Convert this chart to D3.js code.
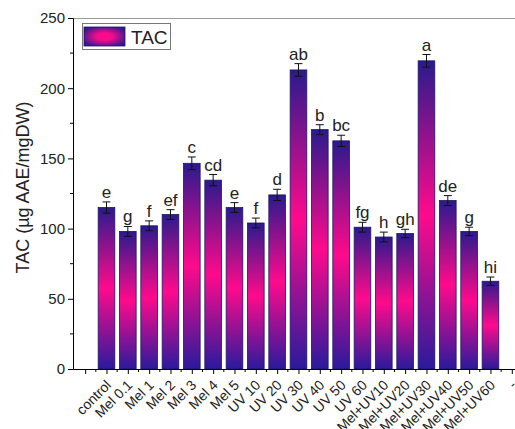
<!DOCTYPE html>
<html>
<head>
<meta charset="utf-8">
<script src="https://cdn.jsdelivr.net/npm/d3@7"></script>
<style>
  html, body { margin: 0; padding: 0; background: #fff; }
  svg { display: block; font-family: Arial, "Liberation Sans", sans-serif; }
</style>
</head>
<body>
<svg id="chart" width="515" height="429"></svg>
<script>
// ---------- data ----------
const categories = ["control", "Mel 0.1", "Mel 1", "Mel 2", "Mel 3", "Mel 4", "Mel 5",
  "UV 10", "UV 20", "UV 30", "UV 40", "UV 50", "UV 60",
  "Mel+UV10", "Mel+UV20", "Mel+UV30", "Mel+UV40", "Mel+UV50", "Mel+UV60"];
const tacValues = [115, 98, 102, 110, 146.5, 134.5, 115, 104, 124, 213, 170.5, 162.5, 101,
  94, 96.5, 219.5, 120, 98, 62.5];
const tacErrors = [4, 3.5, 3.5, 3.5, 4.5, 4, 3.5, 3.5, 4, 4.5, 3.5, 4, 3.5,
  3.5, 3, 4.5, 3.5, 3, 3];
const sigLetters = ["e", "g", "f", "ef", "c", "cd", "e", "f", "d", "ab", "b", "bc", "fg",
  "h", "gh", "a", "de", "g", "hi"];
const yTicks = [0, 50, 100, 150, 200, 250];
const yMinorTicks = [25, 75, 125, 175, 225];
const extraTickLabel = "-";
const seriesName = "TAC";
const yTitle = "TAC (µg AAE/mgDW)";

// ---------- layout ----------
const svg = d3.select("#chart");
const mLeft = 73, mTop = 18, mBottom = 369, mRight = 515;

const x = d3.scaleLinear().domain([-0.57, 20.15]).range([mLeft, mRight]);
const y = d3.scaleLinear().domain([0, 250]).range([mBottom, mTop]);

const defs = svg.append("defs");
const grad = defs.append("linearGradient").attr("id", "barGrad")
  .attr("x1", 0).attr("y1", 0).attr("x2", 0).attr("y2", 1);
grad.append("stop").attr("offset", "0%").attr("stop-color", "#2a1a8e");
grad.append("stop").attr("offset", "50%").attr("stop-color", "#ff0a8c");
grad.append("stop").attr("offset", "100%").attr("stop-color", "#2a1a9c");

const rgrad = defs.append("radialGradient").attr("id", "legGrad")
  .attr("cx", 0.5).attr("cy", 0.5).attr("r", 0.6);
rgrad.append("stop").attr("offset", "0%").attr("stop-color", "#ff0a8c");
rgrad.append("stop").attr("offset", "35%").attr("stop-color", "#f00c8c");
rgrad.append("stop").attr("offset", "100%").attr("stop-color", "#2a1a8e");

// frame (top border grey)
svg.append("line").attr("x1", mLeft).attr("x2", mRight).attr("y1", mTop + 0.5).attr("y2", mTop + 0.5)
  .attr("stroke", "#9a9a9a").attr("stroke-width", 1.2);

// bars
const data = categories.map((c, i) => ({ c, i: i + 1, v: tacValues[i], e: tacErrors[i], s: sigLetters[i] }));
const bw = 0.78;
svg.append("g").selectAll("rect").data(data).join("rect")
  .attr("x", d => x(d.i - bw / 2))
  .attr("width", d => x(d.i + bw / 2) - x(d.i - bw / 2))
  .attr("y", d => y(d.v))
  .attr("height", d => y(0) - y(d.v))
  .attr("fill", "url(#barGrad)")
  .attr("stroke", "#1c1666").attr("stroke-width", 0.8);

// error bars
const eg = svg.append("g").attr("stroke", "#111").attr("stroke-width", 1);
eg.selectAll("line.v").data(data).join("line").attr("class", "v")
  .attr("x1", d => x(d.i)).attr("x2", d => x(d.i))
  .attr("y1", d => y(d.v - d.e)).attr("y2", d => y(d.v + d.e));
eg.selectAll("line.t").data(data).join("line").attr("class", "t")
  .attr("x1", d => x(d.i) - 4).attr("x2", d => x(d.i) + 4)
  .attr("y1", d => y(d.v + d.e)).attr("y2", d => y(d.v + d.e));
eg.selectAll("line.b").data(data).join("line").attr("class", "b")
  .attr("x1", d => x(d.i) - 4).attr("x2", d => x(d.i) + 4)
  .attr("y1", d => y(d.v - d.e)).attr("y2", d => y(d.v - d.e));

// significance letters
svg.append("g").selectAll("text").data(data).join("text")
  .attr("x", d => x(d.i)).attr("y", d => y(d.v + d.e) - 4)
  .attr("text-anchor", "middle").attr("font-size", 17).attr("fill", "#222")
  .text(d => d.s);

// y axis
const yAxis = d3.axisLeft(y).tickValues(yTicks).tickSize(5).tickPadding(3);
const ya = svg.append("g").attr("transform", `translate(${mLeft},0)`).call(yAxis);
ya.selectAll("text").attr("font-size", 15).attr("fill", "#222").attr("font-family", "Arial, 'Liberation Sans', sans-serif");
ya.select(".domain").attr("stroke", "#000");
ya.append("g").selectAll("line").data(yMinorTicks).join("line")
  .attr("x1", -3).attr("x2", 0).attr("y1", d => y(d)).attr("y2", d => y(d)).attr("stroke", "#000");

// x axis
const majorX = d3.range(0, 21);
const minorX = d3.range(0, 20).map(d => d + 0.5);
const labelFor = p => (p >= 1 && p <= 19) ? categories[p - 1] : (p === 20 ? extraTickLabel : "");
const xAxis = d3.axisBottom(x).tickValues(majorX).tickSize(5).tickFormat(labelFor).tickSizeOuter(0);
const xa = svg.append("g").attr("transform", `translate(0,${mBottom})`).call(xAxis);
xa.select(".domain").attr("stroke", "#000");
xa.selectAll(".tick text")
  .attr("font-size", 14).attr("fill", "#222").attr("font-family", "Arial, 'Liberation Sans', sans-serif")
  .attr("text-anchor", "end").attr("dy", 0).attr("y", 0)
  .attr("transform", "translate(5,17) rotate(-45)");
xa.append("g").selectAll("line").data(minorX).join("line")
  .attr("x1", d => x(d)).attr("x2", d => x(d)).attr("y1", 0).attr("y2", 3).attr("stroke", "#000");

// y title
svg.append("text").attr("transform", `translate(29,${(98 + 277) / 2}) rotate(-90)`)
  .attr("text-anchor", "middle").attr("font-size", 18).attr("fill", "#222")
  .text(yTitle);

// legend
const lg = svg.append("g");
lg.append("rect").attr("x", 82.5).attr("y", 23.5).attr("width", 88).attr("height", 26)
  .attr("fill", "#fff").attr("stroke", "#777").attr("stroke-width", 1);
lg.append("rect").attr("x", 84).attr("y", 27).attr("width", 41).attr("height", 19)
  .attr("fill", "url(#legGrad)").attr("stroke", "#1c1666").attr("stroke-width", 0.8);
lg.append("text").attr("x", 131).attr("y", 43.5).attr("font-size", 19).attr("fill", "#222")
  .text(seriesName);
</script>
</body>
</html>
